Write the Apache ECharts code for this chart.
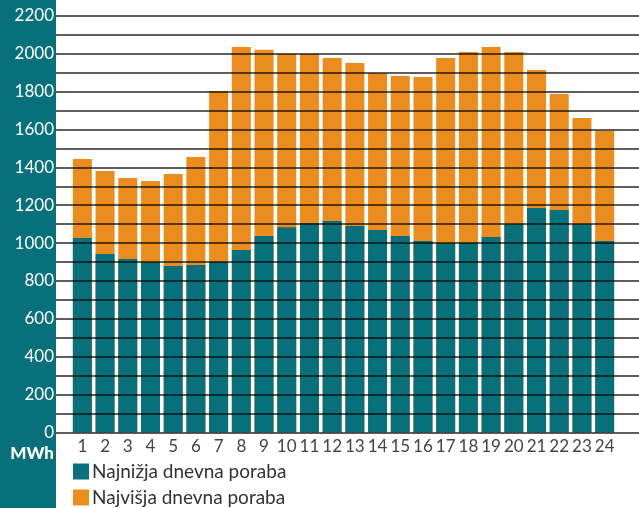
<!DOCTYPE html>
<html><head><meta charset="utf-8">
<script src="https://cdn.jsdelivr.net/npm/echarts@6/dist/echarts.min.js"></script>
<style>html,body{margin:0;padding:0;background:#fff}#c{width:639px;height:508px}</style>
</head><body><div id="c"></div>
<script>
const hours = ['1','2','3','4','5','6','7','8','9','10','11','12','13','14','15','16','17','18','19','20','21','22','23','24'];
const minDaily = [1027,942,916,899,879,884,900,963,1037,1084,1105,1116,1090,1069,1037,1011,999,1000,1032,1099,1185,1175,1099,1011];
const maxDaily = [1444,1381,1344,1328,1365,1455,1804,2036,2021,2000,2000,1978,1952,1897,1883,1877,1978,2010,2036,2010,1915,1788,1661,1594];
const seriesNames = ['Najnižja dnevna poraba','Najvišja dnevna poraba'];
const unitLabel = 'MWh';
const TEAL = '#07707B', ORANGE = '#EA8C1E';
const FONT = 'Lato, "DejaVu Sans", sans-serif';

const legendCommon = {orient:'horizontal', padding:0, itemWidth:16, itemHeight:16, icon:'rect',
  textStyle:{color:'#333', fontSize:19, fontFamily:FONT, padding:[0,0,0,-2]}};

const chart = echarts.init(document.getElementById('c'), null, {renderer:'canvas'});
chart.setOption({
  animation:false,
  backgroundColor:'#fff',
  graphic:[
    {type:'rect', z:-10, shape:{x:0,y:0,width:56,height:508}, style:{fill:TEAL}},
    {type:'text', z:10, x:54, y:454, style:{text:unitLabel, fill:'#fff', font:'900 17px '+FONT, align:'right', verticalAlign:'middle'}}
  ],
  legend:[
    Object.assign({data:[seriesNames[0]], left:73, top:462}, legendCommon),
    Object.assign({data:[seriesNames[1]], left:73, top:488}, legendCommon)
  ],
  grid:[
    {left:56, right:0, top:16, bottom:75.7},
    {left:71, width:545, top:16, bottom:75.7}
  ],
  xAxis:[
    {gridIndex:0, type:'value', show:false, min:0, max:1},
    {gridIndex:1, type:'category', data:hours, axisLine:{show:false}, axisTick:{show:false},
     axisLabel:{color:'#444', fontSize:17, fontFamily:FONT, margin:6, interval:0}}
  ],
  yAxis:[
    {gridIndex:0, type:'value', min:0, max:2200, interval:100, z:5,
     axisLine:{show:false}, axisTick:{show:false},
     axisLabel:{color:'#fff', fontSize:17, fontFamily:FONT, margin:2, formatter:v => v % 200 === 0 ? String(v) : ''},
     splitLine:{show:true, lineStyle:{color:'rgba(0,0,0,0.85)', width:1.6}}},
    {gridIndex:1, type:'value', min:0, max:2200, show:false, splitLine:{show:false}}
  ],
  series:[
    {name:seriesNames[1], type:'bar', xAxisIndex:1, yAxisIndex:1, data:maxDaily, barWidth:19, barGap:'-100%', itemStyle:{color:ORANGE}, z:2},
    {name:seriesNames[0], type:'bar', xAxisIndex:1, yAxisIndex:1, data:minDaily, barWidth:19, barGap:'-100%', itemStyle:{color:TEAL}, z:3}
  ]
});
</script></body></html>
